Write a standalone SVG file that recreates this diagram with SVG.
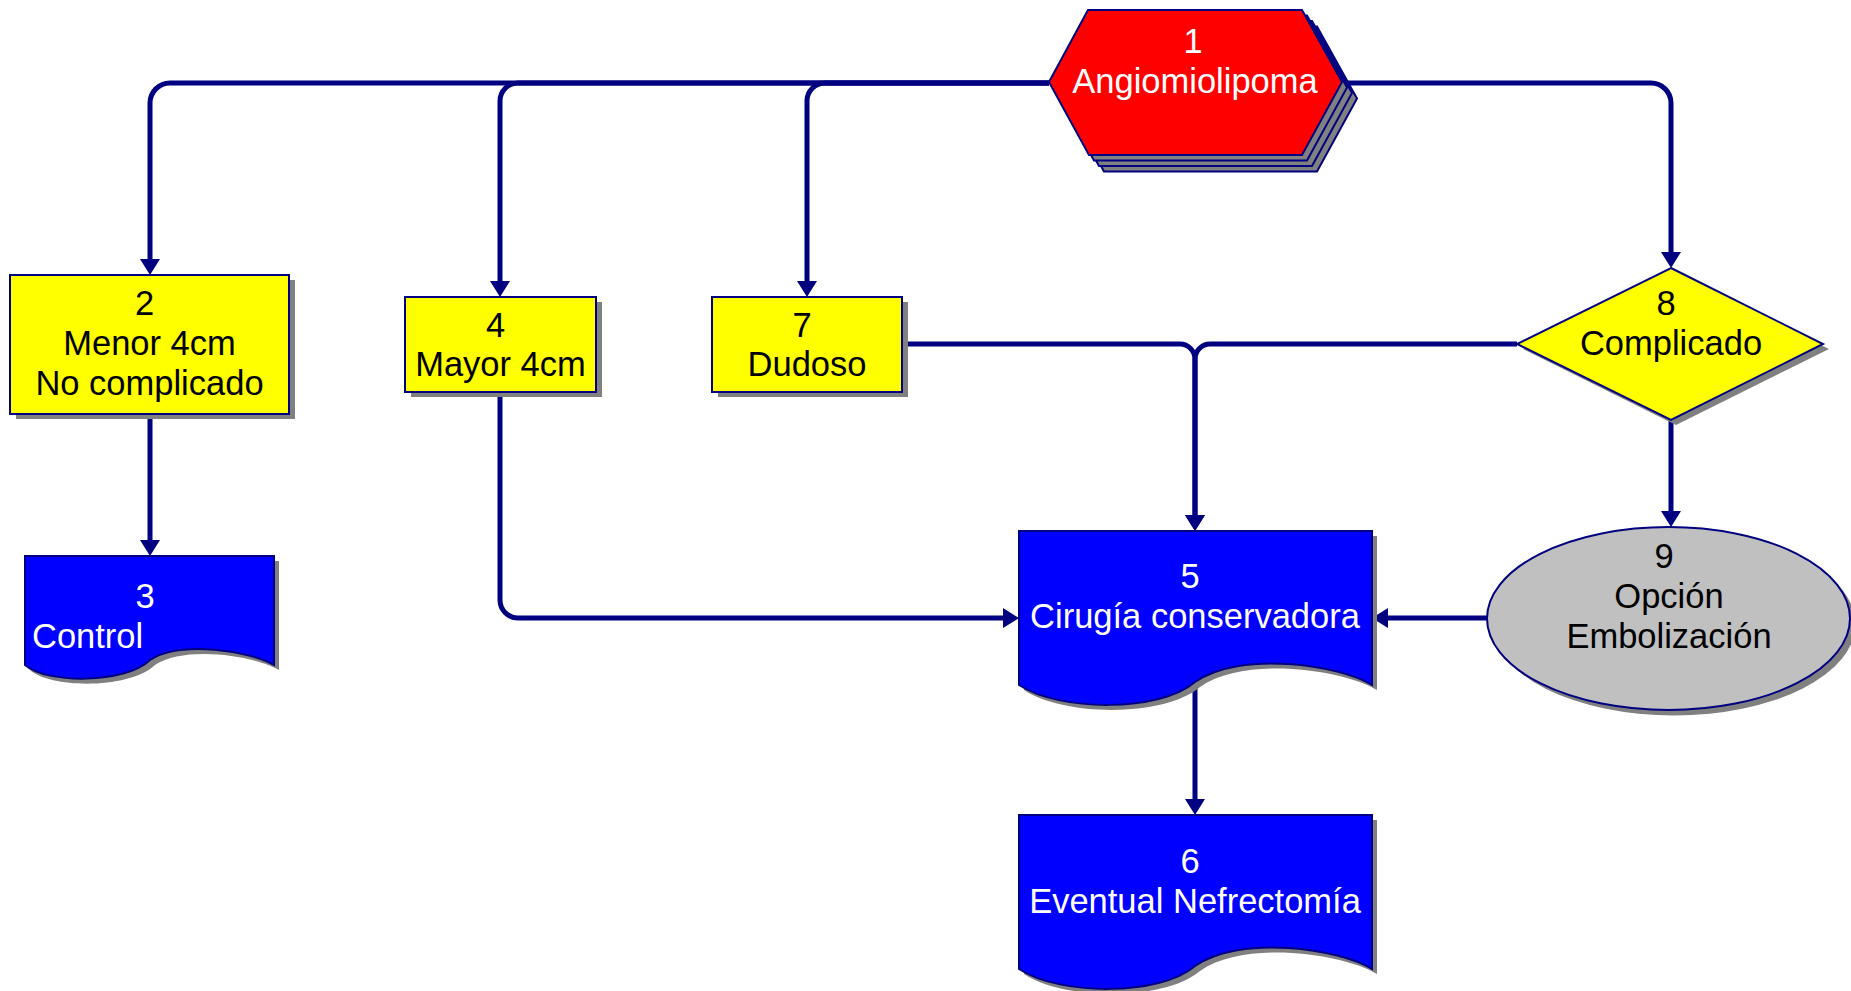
<svg xmlns="http://www.w3.org/2000/svg" width="1851" height="991" viewBox="0 0 1851 991">
<style>
.t{font-family:"Liberation Sans",Arial,sans-serif;font-size:34.5px;text-anchor:middle}
.w{fill:#ffffff}
.k{fill:#000000}
.ol{stroke:#000080;stroke-width:2}
.sh{fill:#808080}
.c{fill:none;stroke:#000080;stroke-width:5}
</style>
<defs>
<marker id="ah" viewBox="0 0 16 20" refX="8" refY="10" markerWidth="16" markerHeight="20" markerUnits="userSpaceOnUse" orient="auto">
<path d="M0,0 L16,10 L0,20 Z" fill="#000080"/>
</marker>
<path id="doc5" d="M0,0 H353 V154 C321,134 221,119 176,151 C141,181 41,181 0,154 Z"/>
</defs>
<rect width="1851" height="991" fill="#ffffff"/>
<g id="connectors">
<path class="c" d="M1049,83 H170 A20,20 0 0 0 150,103 V267" marker-end="url(#ah)"/>
<path class="c" d="M1049,83 H518 A18,18 0 0 0 500,101 V289" marker-end="url(#ah)"/>
<path class="c" d="M1049,83 H825 A18,18 0 0 0 807,101 V289" marker-end="url(#ah)"/>
<path class="c" d="M1342,83 H1651 A20,20 0 0 1 1671,103 V260" marker-end="url(#ah)"/>
<path class="c" d="M150,414 V548" marker-end="url(#ah)"/>
<path class="c" d="M500,392 V600 A18,18 0 0 0 518,618 H1011" marker-end="url(#ah)"/>
<path class="c" d="M902,344 H1180 A15,15 0 0 1 1195,359 V523" marker-end="url(#ah)"/>
<path class="c" d="M1517,344 H1210 A15,15 0 0 0 1195,359 V523" marker-end="url(#ah)"/>
<path class="c" d="M1671,420 V519" marker-end="url(#ah)"/>
<path class="c" d="M1487,618 H1380" marker-end="url(#ah)"/>
<path class="c" d="M1195,682 V807" marker-end="url(#ah)"/>
</g>
<g id="node1">
<polygon class="sh ol" points="1064,98.5 1103,26.5 1317,26.5 1357,98.5 1317,171.5 1104,171.5"/>
<polygon class="sh ol" points="1059,93 1098,21 1312,21 1352,93 1312,166 1099,166"/>
<polygon class="sh ol" points="1054,87.5 1093,15.5 1307,15.5 1347,87.5 1307,160.5 1094,160.5"/>
<polygon class="ol" fill="#ff0000" points="1049,82 1088,10 1302,10 1342,82 1302,155 1089,155"/>
<text class="t w" x="1193" y="53">1</text>
<text class="t w" x="1195" y="93">Angiomiolipoma</text>
</g>
<g id="node2">
<rect class="sh" x="16" y="280" width="279" height="139"/>
<rect class="ol" fill="#ffff00" x="10" y="275" width="279" height="139"/>
<text class="t k" x="144.5" y="315">2</text>
<text class="t k" x="149.5" y="355">Menor 4cm</text>
<text class="t k" x="149.5" y="395">No complicado</text>
</g>
<g id="node3">
<path class="sh" d="M30,561 H279 V670 C256,656 185,645 155,665 C130,689 52,689 30,670 Z"/>
<path class="ol" fill="#0000ff" d="M25,556 H274 V665 C251,651 180,640 150,660 C125,684 47,684 25,665 Z"/>
<text class="t w" x="145" y="608">3</text>
<text class="t w" x="32" y="648" style="text-anchor:start">Control</text>
</g>
<g id="node4">
<rect class="sh" x="411" y="302" width="191" height="95"/>
<rect class="ol" fill="#ffff00" x="405" y="297" width="191" height="95"/>
<text class="t k" x="495.5" y="337">4</text>
<text class="t k" x="500.5" y="376">Mayor 4cm</text>
</g>
<g id="node7">
<rect class="sh" x="718" y="302" width="190" height="95"/>
<rect class="ol" fill="#ffff00" x="712" y="297" width="190" height="95"/>
<text class="t k" x="802" y="337">7</text>
<text class="t k" x="807" y="376">Dudoso</text>
</g>
<g id="node5">
<use href="#doc5" class="sh" x="1024" y="536"/>
<use href="#doc5" class="ol" fill="#0000ff" x="1019" y="531"/>
<text class="t w" x="1190" y="588">5</text>
<text class="t w" x="1195" y="628">Cirugía conservadora</text>
</g>
<g id="node6">
<use href="#doc5" class="sh" x="1024" y="820"/>
<use href="#doc5" class="ol" fill="#0000ff" x="1019" y="815"/>
<text class="t w" x="1190" y="873">6</text>
<text class="t w" x="1195" y="913">Eventual Nefrectomía</text>
</g>
<g id="node8">
<polygon class="sh" points="1676,273 1829,349 1676,425 1523,349"/>
<polygon class="ol" fill="#ffff00" points="1671,268 1823,344 1671,420 1517,344"/>
<text class="t k" x="1666" y="315">8</text>
<text class="t k" x="1671" y="355">Complicado</text>
</g>
<g id="node9">
<ellipse class="sh" cx="1674" cy="624" rx="181.5" ry="91.5"/>
<ellipse class="ol" fill="#c0c0c0" cx="1668.5" cy="618.5" rx="181.5" ry="91.5"/>
<text class="t k" x="1664" y="568">9</text>
<text class="t k" x="1669" y="608">Opción</text>
<text class="t k" x="1669" y="648">Embolización</text>
</g>
</svg>
